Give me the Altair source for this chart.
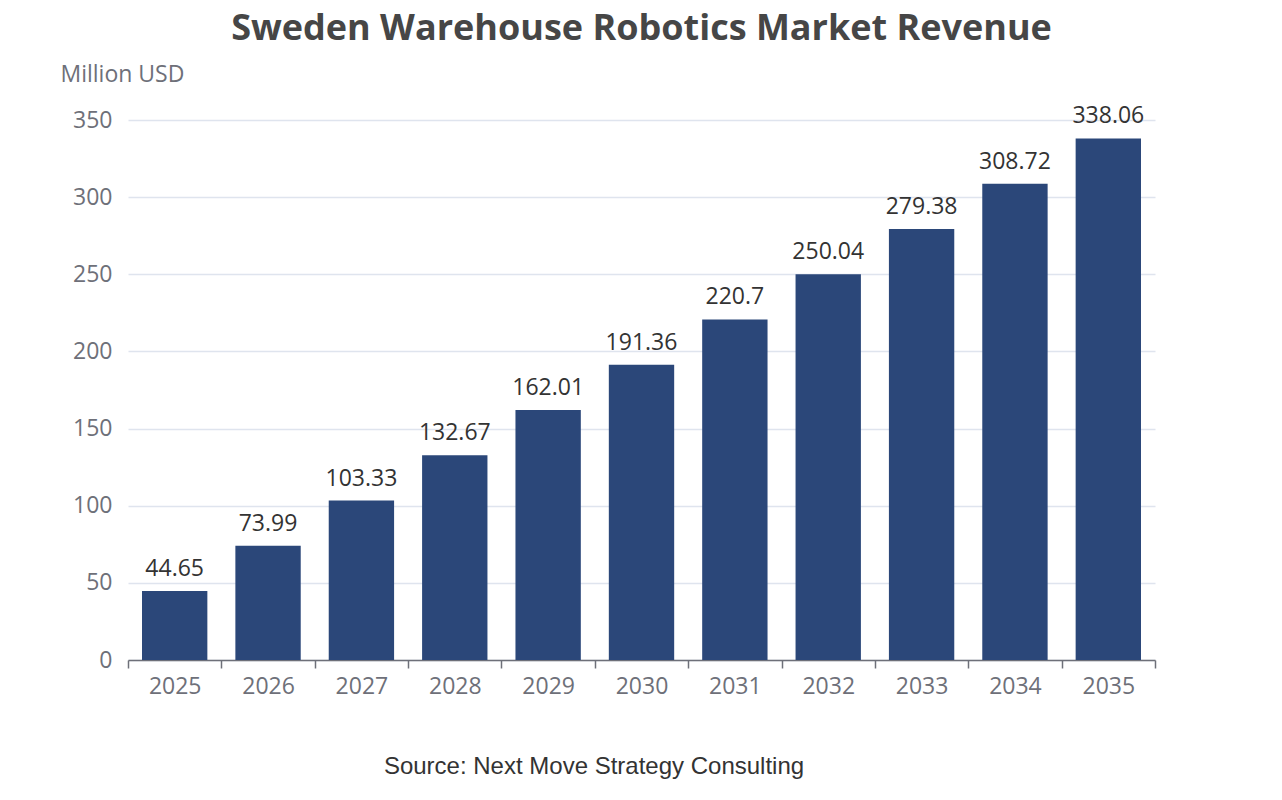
import altair as alt
import pandas as pd

years = ["2025", "2026", "2027", "2028", "2029", "2030", "2031", "2032", "2033", "2034", "2035"]
revenue = [44.65, 73.99, 103.33, 132.67, 162.01, 191.36, 220.7, 250.04, 279.38, 308.72, 338.06]
labels = ["44.65", "73.99", "103.33", "132.67", "162.01", "191.36", "220.7", "250.04", "279.38", "308.72", "338.06"]

df = pd.DataFrame({"year": years, "revenue": revenue, "label": labels})

x = alt.X("year:N", sort=years,
          scale=alt.Scale(paddingInner=0, paddingOuter=0),
          axis=alt.Axis(title=None, labelAngle=0, labelFont="Open Sans", labelFontSize=23,
                        labelColor="#6E7079", labelPadding=7, domainColor="#6E7079",
                        domainWidth=1.5, tickColor="#6E7079", tickWidth=1.5, tickSize=8,
                        tickBand="extent", grid=False))
y = alt.Y("revenue:Q", scale=alt.Scale(domain=[0, 350], nice=False),
          axis=alt.Axis(title="Million USD", titleAngle=0, titleAlign="left", titleBaseline="middle",
                        titleX=-68, titleY=-46, titleFont="Open Sans", titleFontSize=23,
                        titleFontWeight="normal", titleColor="#6E7079",
                        values=[0, 50, 100, 150, 200, 250, 300, 350],
                        labelFont="Open Sans", labelFontSize=23, labelColor="#6E7079",
                        labelPadding=16, domain=False, ticks=False,
                        gridColor="#DFE4EE", gridWidth=1.3))

base = alt.Chart(df)
bars = base.mark_bar(color="#2B4779", width=alt.RelativeBandSize(0.7)).encode(x=x, y=y)
text = base.mark_text(baseline="bottom", dy=-10, font="Open Sans", fontSize=23, color="#333333").encode(
    x=alt.X("year:N", sort=years), y="revenue:Q", text="label:N")

source = alt.Chart(pd.DataFrame({"t": ["Source: Next Move Strategy Consulting"]})).mark_text(
    font="Liberation Sans", fontSize=24, color="#333333", align="center", baseline="middle"
).encode(x=alt.value(466), y=alt.value(647), text="t:N")

chart = alt.layer(bars, text, source).properties(
    width=1027, height=540,
    title=alt.TitleParams("Sweden Warehouse Robotics Market Revenue", font="Open Sans",
                          fontSize=36, fontWeight="bold", color="#464646", anchor="middle",
                          offset=15),
    autosize=alt.AutoSizeParams(type="none"),
    padding={"left": 120, "top": 112, "right": 110, "bottom": 128},
).configure_view(stroke=None)

chart.save("out.html", embed_options={"renderer": "svg", "actions": False})
